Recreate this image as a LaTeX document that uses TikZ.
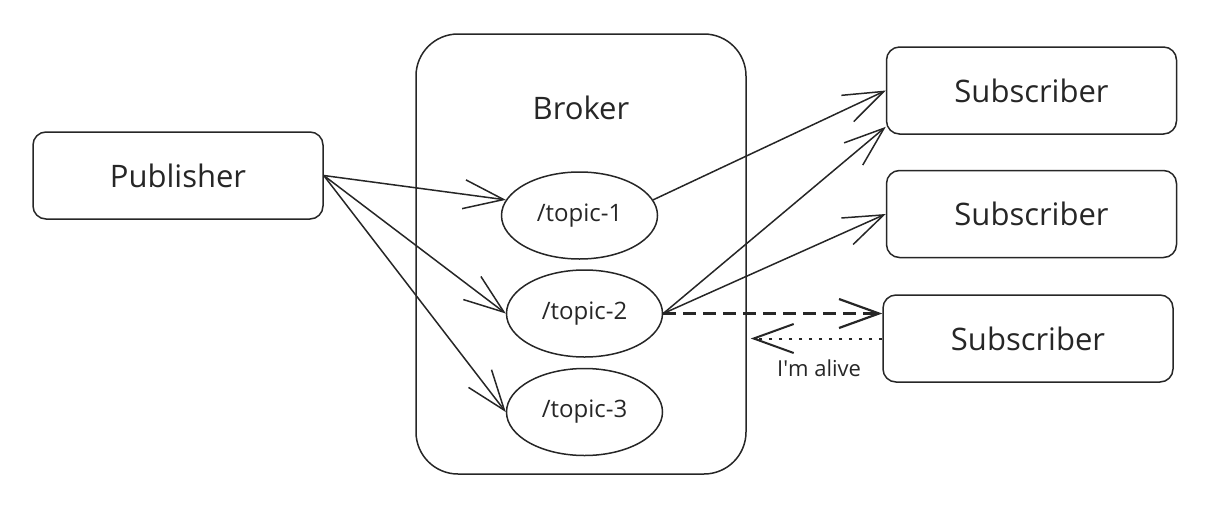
\documentclass[tikz,border=0pt]{standalone}
\usepackage{fontspec}
\setmainfont{Open Sans}
\usetikzlibrary{shapes.geometric,arrows.meta}
\begin{document}
\begin{tikzpicture}[x=1pt,y=-1pt,line width=1.5pt,draw=black!85,text=black!85]
		\tikzstyle{roundbox} = [draw,rectangle,rounded corners=13pt,minimum width=290pt,minimum height=87pt,inner sep=0pt,font=\fontsize{31}{36}\selectfont]
		\tikzstyle{topic} = [draw,ellipse,minimum width=156pt,minimum height=87pt,inner sep=0pt,font=\fontsize{24}{28}\selectfont]
		\tikzstyle{barb} = [-{Straight Barb[length=40pt,width=29pt]}]
		\useasboundingbox (0,0) rectangle (1215,512);
		\node[draw,rectangle,rounded corners=42pt,minimum width=330pt,minimum height=440pt] (broker) at (581,254) {};
		\node[font=\fontsize{31}{36}\selectfont] (title) at (581,108) {Broker};
		\node[roundbox] (pub) at (178,175.5) {Publisher};
		\node[topic] (t1) at (579.5,215.5) {/topic-1};
		\node[topic] (t2) at (584.5,313.5) {/topic-2};
		\node[topic] (t3) at (584.5,412) {/topic-3};
		\node[roundbox] (sub1) at (1031.5,90.5) {Subscriber};
		\node[roundbox] (sub2) at (1031.5,214) {Subscriber};
		\node[roundbox] (sub3) at (1028,338.5) {Subscriber};
		\draw[barb] (pub.east) -- (t1.168);
		\draw[barb] (pub.east) -- (t2.west);
		\draw[barb] (pub.east) -- (t3.west);
		\draw[barb] (t1.12) -- (sub1.west);
		\draw[barb] (t2.east) -- (sub1.194);
		\draw[barb] (t2.east) -- (sub2.west);
		\draw[barb,line width=2.2pt,dash pattern=on 13pt off 7pt] (t2.east) -- (t2.east -| sub3.west);
		\coordinate (alive) at ([xshift=4pt]sub3.west -| broker.east);
		\draw[barb,line width=2pt,dash pattern=on 3pt off 7pt] (sub3.west) -- (alive) node[pos=0.48,below=17pt,font=\fontsize{22}{26}\selectfont] (lbl) {I\textquotesingle m alive};
	\end{tikzpicture}
\end{document}
